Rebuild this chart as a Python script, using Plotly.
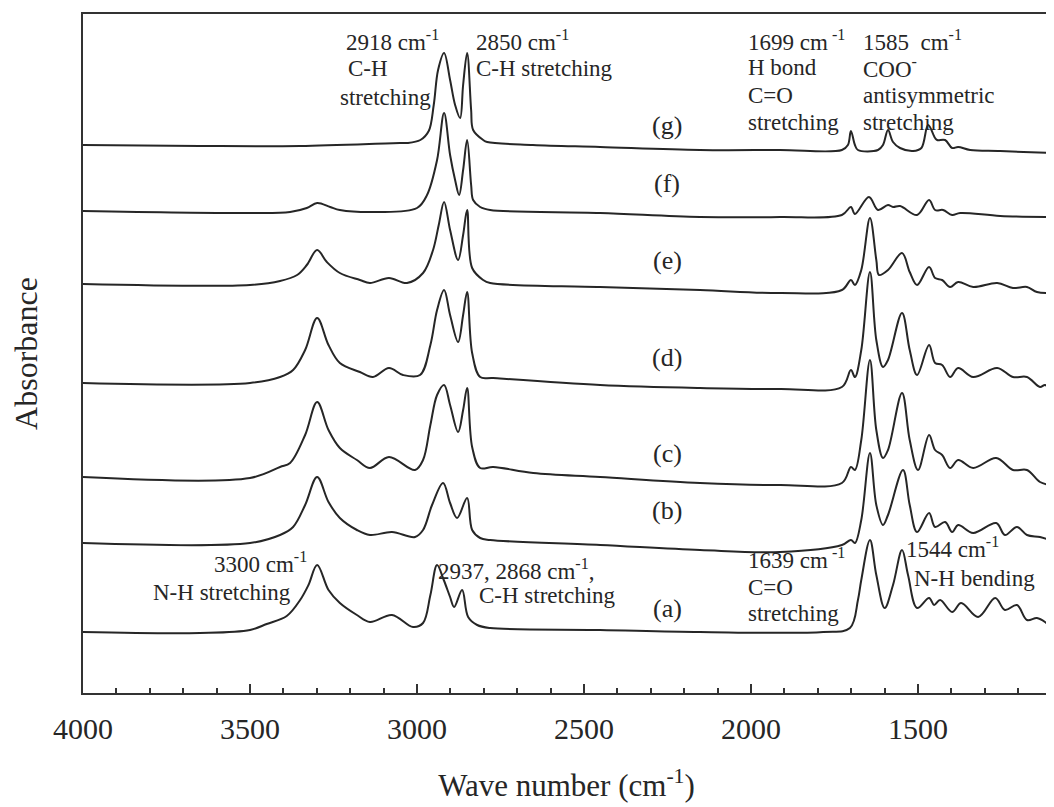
import plotly.graph_objects as go

# ---------------- data (wave number in cm-1, absorbance in arbitrary offset units) ----------------
wn_g = [4000, 3650, 3350, 3051, 3030, 2990, 2965, 2950, 2937, 2919, 2901, 2886, 2871, 2862, 2850, 2838, 2832,
        2802, 2790, 2653, 2452, 2153, 1913, 1728, 1710, 1701, 1689, 1680, 1620, 1605, 1590, 1575, 1554,
        1515, 1490, 1470, 1449, 1443, 1419, 1398, 1380, 1344, 1254, 1105]
abs_g = [5.48, 5.47, 5.47, 5.50, 5.50, 5.53, 5.62, 5.88, 6.23, 6.40, 6.13, 5.88, 5.75, 6.08, 6.40, 5.83, 5.63,
         5.53, 5.51, 5.48, 5.46, 5.43, 5.43, 5.43, 5.48, 5.62, 5.48, 5.43, 5.43, 5.48, 5.63, 5.51, 5.45,
         5.42, 5.45, 5.68, 5.55, 5.53, 5.53, 5.45, 5.46, 5.43, 5.42, 5.40]

wn_f = [4000, 3500, 3380, 3330, 3299, 3260, 3231, 3120, 3000, 2970, 2940, 2919, 2901, 2886, 2874, 2862,
        2850, 2838, 2832, 2811, 2781, 2452, 2153, 1913, 1728, 1701, 1689, 1647, 1620, 1590, 1575, 1554,
        1503, 1467, 1449, 1425, 1398, 1374, 1254, 1105]
abs_f = [4.82, 4.80, 4.81, 4.85, 4.90, 4.86, 4.83, 4.81, 4.85, 4.98, 5.33, 5.80, 5.38, 5.13, 4.98, 5.23,
         5.53, 5.08, 4.93, 4.86, 4.83, 4.80, 4.76, 4.76, 4.78, 4.86, 4.79, 4.96, 4.83, 4.88, 4.86, 4.87,
         4.78, 4.93, 4.83, 4.83, 4.78, 4.80, 4.77, 4.76]

wn_e = [4000, 3500, 3410, 3359, 3330, 3299, 3270, 3231, 3171, 3141, 3084, 3030, 2982, 2952, 2935, 2919,
        2901, 2877, 2862, 2850, 2835, 2802, 2781, 2452, 2153, 1913, 1728, 1701, 1689, 1670, 1644, 1625,
        1617, 1590, 1548, 1525, 1503, 1467, 1449, 1428, 1404, 1380, 1335, 1263, 1216, 1174, 1144, 1105]
abs_e = [4.09, 4.08, 4.12, 4.18, 4.28, 4.43, 4.31, 4.20, 4.13, 4.10, 4.15, 4.10, 4.20, 4.43, 4.68, 4.91,
         4.63, 4.33, 4.58, 4.83, 4.25, 4.13, 4.10, 4.06, 4.03, 4.00, 4.03, 4.13, 4.08, 4.23, 4.75, 4.33,
         4.18, 4.23, 4.40, 4.21, 4.08, 4.26, 4.15, 4.13, 4.06, 4.11, 4.06, 4.10, 4.05, 4.06, 4.01, 4.00]

wn_d = [4000, 3500, 3410, 3371, 3335, 3299, 3265, 3231, 3171, 3132, 3084, 3042, 2991, 2960, 2940, 2919,
        2901, 2877, 2862, 2850, 2835, 2811, 2772, 2452, 2153, 1913, 1728, 1701, 1689, 1670, 1644, 1625,
        1605, 1590, 1548, 1525, 1503, 1467, 1449, 1428, 1404, 1380, 1335, 1263, 1216, 1174, 1135, 1120, 1105]
abs_d = [3.10, 3.10, 3.16, 3.23, 3.43, 3.75, 3.48, 3.30, 3.21, 3.16, 3.25, 3.18, 3.18, 3.48, 3.83, 4.03,
         3.78, 3.51, 3.78, 4.01, 3.40, 3.16, 3.15, 3.08, 3.05, 3.04, 3.06, 3.23, 3.16, 3.43, 4.21, 3.53,
         3.26, 3.33, 3.80, 3.43, 3.18, 3.48, 3.30, 3.28, 3.16, 3.25, 3.16, 3.25, 3.16, 3.16, 3.06, 3.08, 3.04]

wn_c = [4000, 3500, 3410, 3380, 3335, 3299, 3265, 3231, 3180, 3141, 3084, 3006, 2982, 2960, 2940, 2919,
        2901, 2877, 2862, 2850, 2835, 2811, 2772, 2652, 2452, 2153, 1913, 1728, 1701, 1689, 1670, 1644,
        1625, 1605, 1590, 1548, 1525, 1500, 1467, 1449, 1428, 1404, 1380, 1335, 1266, 1216, 1174, 1135, 1105]
abs_c = [2.16, 2.15, 2.26, 2.30, 2.58, 2.91, 2.63, 2.45, 2.33, 2.25, 2.36, 2.23, 2.33, 2.68, 2.98, 3.08,
         2.88, 2.61, 2.83, 3.05, 2.46, 2.25, 2.26, 2.20, 2.16, 2.10, 2.08, 2.10, 2.26, 2.23, 2.53, 3.33,
         2.63, 2.35, 2.43, 3.00, 2.53, 2.23, 2.58, 2.43, 2.38, 2.25, 2.33, 2.25, 2.35, 2.23, 2.23, 2.11, 2.08]

wn_b = [4000, 3500, 3410, 3371, 3335, 3299, 3265, 3231, 3180, 3141, 3075, 3006, 2982, 2955, 2922, 2901,
        2880, 2850, 2835, 2811, 2781, 2452, 2153, 1913, 1728, 1701, 1689, 1670, 1644, 1625, 1605, 1590,
        1545, 1525, 1503, 1467, 1449, 1419, 1398, 1380, 1335, 1266, 1240, 1204, 1174, 1135, 1105]
abs_b = [1.50, 1.50, 1.58, 1.66, 1.88, 2.16, 1.91, 1.75, 1.63, 1.58, 1.61, 1.56, 1.63, 1.88, 2.10, 1.90,
         1.75, 1.95, 1.63, 1.55, 1.53, 1.48, 1.43, 1.41, 1.48, 1.53, 1.50, 1.73, 2.40, 1.88, 1.68, 1.78,
         2.23, 1.88, 1.61, 1.80, 1.66, 1.71, 1.61, 1.68, 1.60, 1.70, 1.58, 1.66, 1.58, 1.56, 1.53]

wn_a = [4000, 3650, 3500, 3450, 3390, 3350, 3325, 3299, 3265, 3231, 3180, 3141, 3075, 3012, 2982, 2960,
        2940, 2920, 2901, 2889, 2865, 2847, 2820, 2781, 2452, 2153, 1784, 1704, 1680, 1670, 1644, 1625,
        1600, 1575, 1548, 1530, 1503, 1467, 1452, 1434, 1398, 1371, 1320, 1269, 1240, 1204, 1174, 1144,
        1120, 1105]
abs_a = [0.61, 0.60, 0.63, 0.69, 0.77, 0.93, 1.08, 1.28, 1.03, 0.90, 0.78, 0.71, 0.78, 0.66, 0.70, 0.98,
         1.28, 1.13, 0.96, 0.86, 1.03, 0.76, 0.68, 0.65, 0.63, 0.61, 0.61, 0.65, 0.93, 1.13, 1.53, 1.18,
         0.85, 1.08, 1.43, 1.18, 0.85, 0.95, 0.88, 0.93, 0.81, 0.90, 0.76, 0.95, 0.83, 0.88, 0.73, 0.75,
         0.71, 0.66]

sample_labels = ["(a)", "(b)", "(c)", "(d)", "(e)", "(f)", "(g)"]
label_y = [0.85, 1.83, 2.40, 3.36, 4.33, 5.10, 5.68]
label_wn = 2251

series = [(wn_a, abs_a), (wn_b, abs_b), (wn_c, abs_c), (wn_d, abs_d),
          (wn_e, abs_e), (wn_f, abs_f), (wn_g, abs_g)]

# peak annotations: (text line, wave number of left edge, vertical position)
peak_notes = [
    ("2918 cm<sup>-1</sup>", 3216, 6.53),
    ("C-H", 3210, 6.25),
    ("stretching", 3234, 5.96),
    ("2850 cm<sup>-1</sup>", 2826, 6.53),
    ("C-H stretching", 2826, 6.25),
    ("1699 cm<sup> -1</sup>", 2012, 6.53),
    ("H bond", 2012, 6.26),
    ("C=O", 2012, 5.98),
    ("stretching", 2012, 5.71),
    ("1585  cm<sup>-1</sup>", 1668, 6.53),
    ("COO<sup>-</sup>", 1668, 6.26),
    ("antisymmetric", 1668, 5.98),
    ("stretching", 1668, 5.71),
    ("3300 cm<sup>-1</sup>", 3611, 1.31),
    ("N-H stretching", 3793, 1.01),
    ("2937, 2868 cm<sup>-1</sup>,", 2940, 1.24),
    ("C-H stretching", 2817, 0.98),
    ("1639 cm<sup> -1</sup>", 2012, 1.35),
    ("C=O", 2012, 1.06),
    ("stretching", 2012, 0.80),
    ("1544 cm<sup>-1</sup>", 1539, 1.46),
    ("N-H bending", 1515, 1.15),
]

# ---------------- figure ----------------
FONT = "Liberation Serif"
INK = "#262626"

fig = go.Figure()
for (wn, ab), lab in zip(series, sample_labels):
    fig.add_trace(go.Scatter(
        x=wn, y=ab, mode="lines", name=lab, showlegend=False, hoverinfo="skip",
        line=dict(color=INK, width=2, shape="spline", smoothing=1.0),
    ))

annotations = []
for lab, yv in zip(sample_labels, label_y):
    annotations.append(dict(x=label_wn, y=yv, xref="x", yref="y", text=lab, showarrow=False,
                            xanchor="center", yanchor="middle",
                            font=dict(family=FONT, size=26, color=INK)))
for txt, xv, yv in peak_notes:
    annotations.append(dict(x=xv, y=yv, xref="x", yref="y", text=txt, showarrow=False,
                            xanchor="left", yanchor="middle", borderpad=0,
                            font=dict(family=FONT, size=23, color=INK)))

# the page body adds an 8 px offset, so the figure is 8 px smaller than the window
fig.update_layout(
    width=1046, height=799,
    margin=dict(l=75, r=4, t=6, b=114),
    paper_bgcolor="white", plot_bgcolor="white",
    font=dict(family=FONT, color=INK),
    annotations=annotations,
    xaxis=dict(
        range=[4000, 1105], dtick=500, tick0=0,
        ticks="inside", ticklen=9, tickwidth=1.5, tickcolor="#333",
        minor=dict(dtick=100, tick0=0, ticks="inside", ticklen=5, tickwidth=1.5, tickcolor="#333", showgrid=False),
        showline=True, linewidth=2, linecolor="#333", mirror=True,
        showgrid=False, zeroline=False, automargin=False,
        tickfont=dict(family=FONT, size=30, color=INK),
        ticklabelstandoff=8,
        title=dict(text="Wave number (cm<sup>-1</sup>)", font=dict(family=FONT, size=31, color=INK), standoff=30),
    ),
    yaxis=dict(
        range=[0, 6.79], showticklabels=False, ticks="",
        showline=True, linewidth=2, linecolor="#333", mirror=True,
        showgrid=False, zeroline=False, automargin=False,
        title=dict(text="Absorbance", font=dict(family=FONT, size=32, color=INK), standoff=38),
    ),
)

fig.write_html("out.html")
